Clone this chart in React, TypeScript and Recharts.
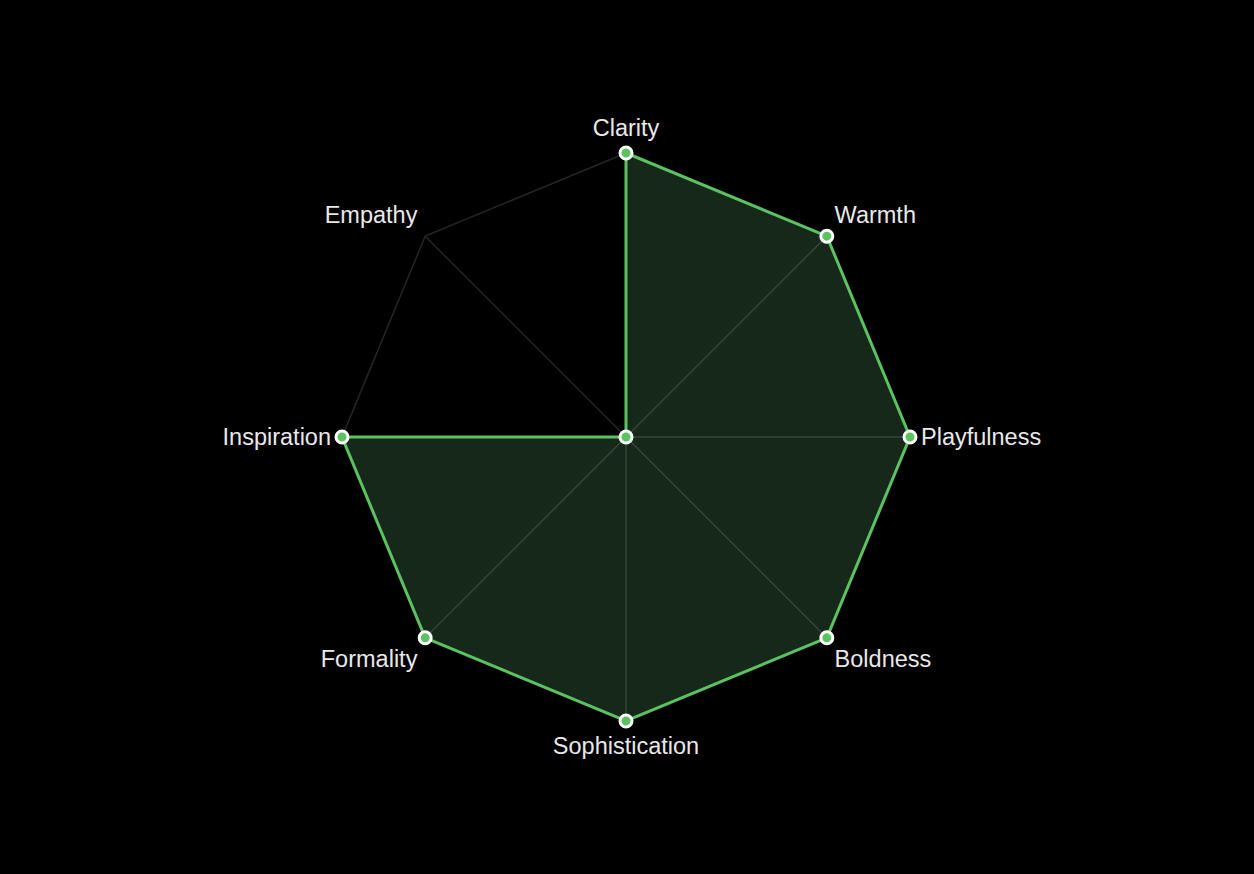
import { PolarAngleAxis, PolarGrid, PolarRadiusAxis, Radar, RadarChart } from "recharts";

const traits = [
  "Clarity",
  "Warmth",
  "Playfulness",
  "Boldness",
  "Sophistication",
  "Formality",
  "Inspiration",
  "Empathy",
];
const scores = [100, 100, 100, 100, 100, 100, 100, 0];

const data = traits.map((trait, i) => ({ trait, score: scores[i] }));

const GREEN = "#5cc261";
const CX = 626;
const CY = 437;
const R = 284;

// labels sit a little out from the rim, then get pushed off it vertically by their own half height
function TraitTick(props: any) {
  const { payload } = props;
  const angle = (payload.coordinate * Math.PI) / 180;
  const cos = Math.cos(angle);
  const sin = Math.sin(angle);
  const vx = CX + R * cos;
  const vy = CY - R * sin;
  const x = vx + 11 * cos;
  const side = Math.abs(sin) < 1e-6 ? 0 : Math.sign(sin);
  const y = vy - 12 * sin - 13 * side;
  const anchor = Math.abs(cos) < 1e-6 ? "middle" : cos > 0 ? "start" : "end";
  return (
    <text
      x={x}
      y={y}
      textAnchor={anchor}
      dominantBaseline="central"
      fill="#e8e8e8"
      fontSize={23.5}
      fontFamily="Liberation Sans, Arial, sans-serif"
    >
      {payload.value}
    </text>
  );
}

export default function App() {
  return (
    <div style={{ position: "absolute", left: 0, top: 0, width: 1254, height: 874, background: "#000" }}>
      <RadarChart width={1254} height={874} data={data} cx={CX} cy={CY} outerRadius={R}>
        <PolarGrid gridType="polygon" polarRadius={[R]} stroke="#262626" strokeWidth={1.5} />
        <PolarAngleAxis dataKey="trait" tick={<TraitTick />} tickLine={false} axisLine={false} />
        <PolarRadiusAxis domain={[0, 100]} tick={false} axisLine={false} tickCount={2} />
        <Radar
          dataKey="score"
          stroke={GREEN}
          strokeWidth={3}
          fill="#6ac880"
          fillOpacity={0.2}
          dot={{ r: 6, fill: GREEN, stroke: "#fff", strokeWidth: 3, fillOpacity: 1 }}
          isAnimationActive={false}
        />
      </RadarChart>
    </div>
  );
}
